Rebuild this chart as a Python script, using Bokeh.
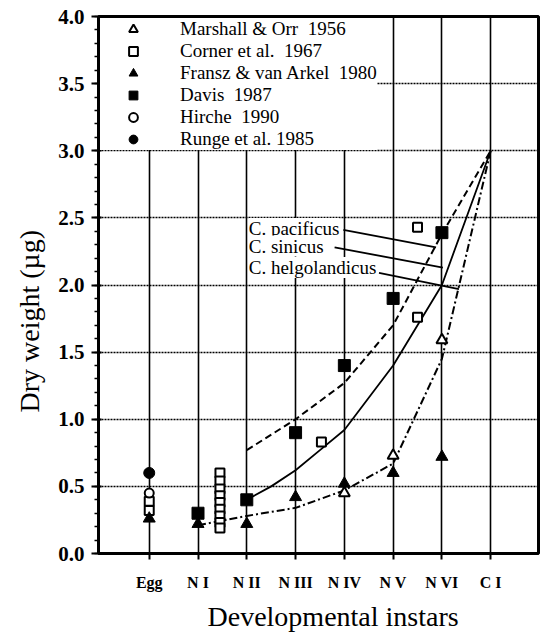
from bokeh.plotting import figure
from bokeh.models import (Range1d, FixedTicker, SingleIntervalTicker, Legend, LegendItem, Label,
                          Title, CustomJSTickFormatter)
from bokeh.embed import file_html
from bokeh.resources import INLINE

# ---- data ----
instars = ["Egg", "N I", "N II", "N III", "N IV", "N V", "N VI", "C I"]
instar_pos = [1, 2, 3, 4, 5, 6, 7, 8]

marshall_x = [5, 6, 7]
marshall_y = [0.45, 0.73, 1.59]

corner_x = [1, 1, 2.45, 2.45, 2.45, 2.45, 2.45, 2.45, 2.45, 2.45, 2.45, 4.53, 6.5, 6.5]
corner_y = [0.39, 0.32, 0.60, 0.54, 0.48, 0.43, 0.38, 0.33, 0.28, 0.23, 0.19, 0.83, 1.76, 2.43]

fransz_x = [1, 2, 3, 4, 5, 6, 7]
fransz_y = [0.26, 0.22, 0.22, 0.42, 0.52, 0.60, 0.72]

davis_x = [2, 3, 4, 5, 6, 7]
davis_y = [0.30, 0.40, 0.90, 1.40, 1.90, 2.39]

hirche_x = [1]
hirche_y = [0.45]

runge_x = [1]
runge_y = [0.60]

pacificus_x = [3, 4, 5, 6, 7, 8]
pacificus_y = [0.77, 1.00, 1.27, 1.70, 2.38, 3.00]

sinicus_x = [3, 3.5, 4, 4.5, 5, 6, 7, 8]
sinicus_y = [0.40, 0.50, 0.62, 0.77, 0.92, 1.40, 2.00, 3.00]

helgo_x = [2, 3, 4, 5, 6, 7, 8]
helgo_y = [0.21, 0.28, 0.34, 0.47, 0.67, 1.45, 3.00]

species_labels = ["C. pacificus", "C. sinicus", "C. helgolandicus"]
label_x = [3.04, 3.04, 3.04]
label_y = [2.42, 2.29, 2.13]
leader_x0 = [4.98, 4.80, 5.71]
leader_y0 = [2.41, 2.28, 2.09]
leader_x1 = [6.88, 7.02, 7.35]
leader_y1 = [2.28, 2.13, 1.97]

SERIF = "Liberation Serif"

p = figure(width=540, height=636, output_backend="svg", toolbar_location=None,
           x_range=Range1d(-0.04, 8.98), y_range=Range1d(0, 4.0),
           min_border_left=96, min_border_right=2, min_border_top=16, min_border_bottom=83)
p.background_fill_color = "white"
p.border_fill_color = "white"
p.outline_line_color = "black"
p.outline_line_width = 3

# axes
p.xaxis.ticker = FixedTicker(ticks=instar_pos)
p.xaxis.major_label_overrides = {pos: lab for pos, lab in zip(instar_pos, instars)}
p.xaxis.major_label_text_font = SERIF
p.xaxis.major_label_text_font_style = "bold"
p.xaxis.major_label_text_font_size = "16px"
p.xaxis.major_label_text_color = "black"
p.xaxis.major_label_standoff = 14
p.xaxis.major_tick_out = 6
p.xaxis.major_tick_in = 0
p.xaxis.axis_line_width = 2
p.xaxis.major_tick_line_width = 2
p.xaxis.axis_line_color = "black"

p.yaxis.ticker = SingleIntervalTicker(interval=0.5, num_minor_ticks=5)
p.yaxis.formatter = CustomJSTickFormatter(code="return tick.toFixed(1);")
p.yaxis.major_label_text_font = SERIF
p.yaxis.major_label_text_font_style = "bold"
p.yaxis.major_label_text_font_size = "21px"
p.yaxis.major_label_text_color = "black"
p.yaxis.major_label_standoff = 7
p.yaxis.major_tick_out = 7
p.yaxis.major_tick_in = 3
p.yaxis.minor_tick_out = 4
p.yaxis.minor_tick_in = 0
p.yaxis.axis_line_width = 2
p.yaxis.major_tick_line_width = 2
p.yaxis.minor_tick_line_width = 1.5
p.yaxis.minor_tick_line_color = "black"

# grids
p.xgrid.ticker = FixedTicker(ticks=instar_pos)
p.xgrid.grid_line_color = "black"
p.xgrid.grid_line_width = 1.6
p.ygrid.grid_line_color = "black"
p.ygrid.grid_line_width = 1.6
p.ygrid.grid_line_dash = "2 1"

# curves
p.line(pacificus_x, pacificus_y, line_color="black", line_width=2, line_dash="7 4")
p.line(sinicus_x, sinicus_y, line_color="black", line_width=1.8)
p.line(helgo_x, helgo_y, line_color="black", line_width=2, line_dash="8 3 2 3")

# leader lines
p.segment(leader_x0, leader_y0, leader_x1, leader_y1, line_color="black", line_width=1.8)

# species labels
for t, lx, ly in zip(species_labels, label_x, label_y):
    p.add_layout(Label(x=lx, y=ly, text=t, text_font=SERIF, text_font_size="19px",
                       text_baseline="middle", text_color="black",
                       background_fill_color="white", background_fill_alpha=1.0))

# markers
r_marshall = p.scatter(marshall_x, marshall_y, marker="triangle", size=11,
                       fill_color="white", line_color="black", line_width=2)
r_corner = p.scatter(corner_x, corner_y, marker="square", size=9,
                     fill_color="white", line_color="black", line_width=2)
r_fransz = p.scatter(fransz_x, fransz_y, marker="triangle", size=12,
                     fill_color="black", line_color="black", line_width=1)
r_davis = p.scatter(davis_x, davis_y, marker="square", size=12,
                    fill_color="black", line_color="black", line_width=1)
r_hirche = p.scatter(hirche_x, hirche_y, marker="circle", size=9,
                     fill_color="white", line_color="black", line_width=2)
r_runge = p.scatter(runge_x, runge_y, marker="circle", size=11,
                    fill_color="black", line_color="black", line_width=1)

legend = Legend(items=[
    LegendItem(label="Marshall & Orr  1956", renderers=[r_marshall]),
    LegendItem(label="Corner et al.  1967", renderers=[r_corner]),
    LegendItem(label="Fransz & van Arkel  1980", renderers=[r_fransz]),
    LegendItem(label="Davis  1987", renderers=[r_davis]),
    LegendItem(label="Hirche  1990", renderers=[r_hirche]),
    LegendItem(label="Runge et al. 1985", renderers=[r_runge]),
], location="top_left")
legend.margin = 2
legend.padding = 2
legend.glyph_height = 22
legend.label_height = 22
legend.spacing = 0
legend.glyph_width = 66
legend.label_standoff = 14
legend.label_text_font = SERIF
legend.label_text_font_size = "19px"
legend.label_text_color = "black"
legend.border_line_color = None
legend.background_fill_color = "white"
legend.background_fill_alpha = 1.0
p.add_layout(legend)

# axis titles
p.add_layout(Title(text="Developmental instars", text_font="serif", text_font_size="28px",
                   text_font_style="normal", text_color="black", align="left", offset=109,
                   standoff=10), "below")
p.add_layout(Title(text="Dry weight (\u00b5g)", text_font="serif", text_font_size="28px",
                   text_font_style="normal", text_color="black", align="left", offset=141,
                   standoff=22), "left")

open("out.html", "w").write(file_html(p, INLINE))
